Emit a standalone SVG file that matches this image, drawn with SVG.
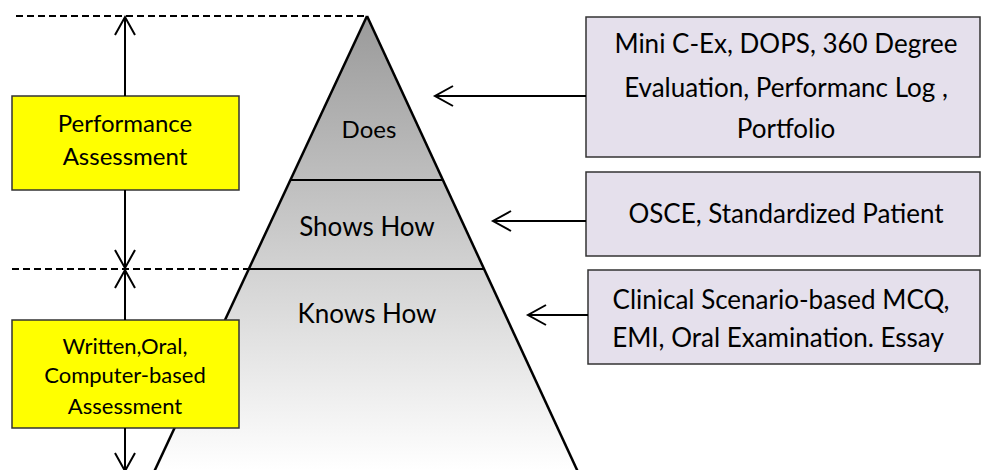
<svg xmlns="http://www.w3.org/2000/svg" width="981" height="470" viewBox="0 0 981 470">
  <style>
    .lbl { font-family: Lato, "Open Sans", "Liberation Sans", sans-serif; fill: #000; text-anchor: middle; }
    .yellow { fill: #ffff00; stroke: #333; stroke-width: 1.5; }
    .lav { fill: #e5e0ec; stroke: #333; stroke-width: 1.5; }
    .conn { stroke: #000; stroke-width: 2; fill: none; }
    .dash { stroke: #000; stroke-width: 2; stroke-dasharray: 7 4; fill: none; }
    .edge { stroke: #000; stroke-width: 2.5; fill: none; }
    .tier { stroke: #000; stroke-width: 1.8; fill: none; }
  </style>
  <defs>
    <linearGradient id="pyrFill" x1="0" y1="16" x2="0" y2="470" gradientUnits="userSpaceOnUse">
      <stop offset="0" stop-color="#9a9a9a"/>
      <stop offset="1" stop-color="#ffffff"/>
    </linearGradient>
    <marker id="openHead" markerWidth="24" markerHeight="24" refX="0" refY="0" viewBox="-20 -12 22 24" orient="auto" markerUnits="userSpaceOnUse">
      <path d="M -18 -10 L 0 0 L -18 10" fill="none" stroke="#000" stroke-width="2"/>
    </marker>
  </defs>

  <!-- pyramid -->
  <g id="pyramid">
    <polygon points="367,16 578,472 154,472" fill="url(#pyrFill)"/>
    <line class="edge" x1="367" y1="16" x2="154" y2="472"/>
    <line class="edge" x1="367" y1="16" x2="578" y2="472"/>
    <line class="tier" x1="290" y1="180" x2="443" y2="180"/>
    <line class="tier" x1="249" y1="269" x2="484" y2="269"/>
    <text class="lbl" x="369" y="138" font-size="24">Does</text>
    <text class="lbl" x="367" y="236" font-size="26">Shows How</text>
    <text class="lbl" x="367" y="323" font-size="26">Knows How</text>
  </g>

  <!-- level guides -->
  <g id="guides">
    <line class="dash" x1="16" y1="16" x2="367" y2="16"/>
    <line class="dash" x1="12" y1="269" x2="249" y2="269"/>
  </g>

  <!-- assessment boxes, left -->
  <g id="performance-assessment">
    <rect class="yellow" x="12" y="96" width="227" height="94"/>
    <text class="lbl" x="125" y="132" font-size="24">Performance</text>
    <text class="lbl" x="125" y="165" font-size="24">Assessment</text>
  </g>
  <g id="written-assessment">
    <rect class="yellow" x="12" y="320" width="227" height="108"/>
    <text class="lbl" x="125" y="354" font-size="22">Written,Oral,</text>
    <text class="lbl" x="125" y="383" font-size="22">Computer-based</text>
    <text class="lbl" x="125" y="414" font-size="22">Assessment</text>
  </g>

  <!-- method boxes, right -->
  <g id="does-methods">
    <rect class="lav" x="586" y="17" width="394" height="140"/>
    <text class="lbl" x="786" y="53" font-size="26">Mini C-Ex, DOPS, 360 Degree</text>
    <text class="lbl" x="786" y="97" font-size="26">Evaluation, Performanc Log ,</text>
    <text class="lbl" x="786" y="138" font-size="26">Portfolio</text>
  </g>
  <g id="shows-how-methods">
    <rect class="lav" x="586" y="172" width="394" height="84"/>
    <text class="lbl" x="786" y="223" font-size="26">OSCE, Standardized Patient</text>
  </g>
  <g id="knows-how-methods">
    <rect class="lav" x="588" y="270" width="392" height="94"/>
    <text class="lbl" x="781" y="309" font-size="26">Clinical Scenario-based MCQ,</text>
    <text class="lbl" x="778" y="347" font-size="26">EMI, Oral Examination. Essay</text>
  </g>

  <!-- connectors -->
  <g id="connectors">
    <line class="conn" x1="125" y1="96" x2="125" y2="17" marker-end="url(#openHead)"/>
    <line class="conn" x1="125" y1="190" x2="125" y2="268" marker-end="url(#openHead)"/>
    <line class="conn" x1="125" y1="320" x2="125" y2="270" marker-end="url(#openHead)"/>
    <line class="conn" x1="125" y1="428" x2="125" y2="471" marker-end="url(#openHead)"/>
    <line class="conn" x1="586" y1="96" x2="435" y2="96" marker-end="url(#openHead)"/>
    <line class="conn" x1="586" y1="221" x2="493" y2="221" marker-end="url(#openHead)"/>
    <line class="conn" x1="588" y1="315" x2="528" y2="315" marker-end="url(#openHead)"/>
  </g>
</svg>
